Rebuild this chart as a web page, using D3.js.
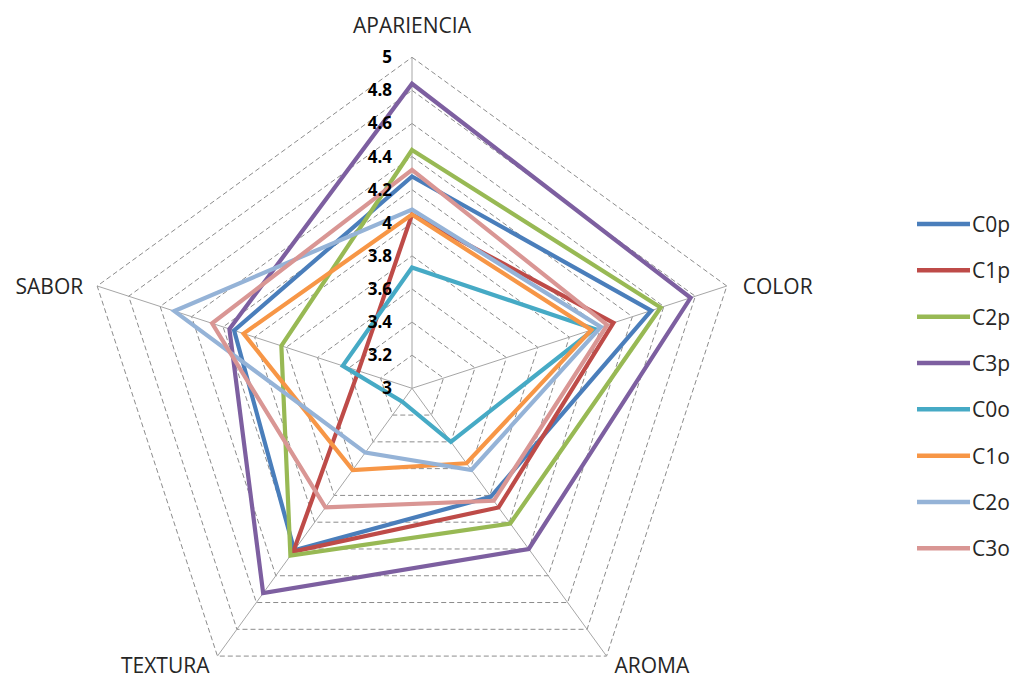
<!DOCTYPE html>
<html>
<head>
<meta charset="utf-8">
<script src="https://cdn.jsdelivr.net/npm/d3@7"></script>
<style>
  html, body { margin: 0; padding: 0; background: #fff; }
  svg { display: block; }
  text { font-family: "Open Sans", "DejaVu Sans", sans-serif; fill: #262626; }
</style>
</head>
<body>
<svg id="chart" width="1019" height="678"></svg>
<script>
// Sensory attributes (one spoke each, clockwise from the top)
const attributes = ["APARIENCIA", "COLOR", "AROMA", "TEXTURA", "SABOR"];

// Mean scores per sample, in the same order as the attributes
const seriesNames = ["C0p", "C1p", "C2p", "C3p", "C0o", "C1o", "C2o", "C3o"];
const C0p = [4.28, 4.52, 3.81, 4.21, 4.13];
const C1p = [4.05, 4.28, 3.89, 4.22, 3.34];
const C2p = [4.44, 4.58, 4.01, 4.25, 3.83];
const C3p = [4.84, 4.77, 4.20, 4.53, 4.16];
const C0o = [3.73, 4.16, 3.40, 3.10, 3.44];
const C1o = [4.05, 4.14, 3.56, 3.61, 4.07];
const C2o = [4.08, 4.20, 3.61, 3.48, 4.51];
const C3o = [4.32, 4.24, 3.84, 3.89, 4.27];
const seriesValues = [C0p, C1p, C2p, C3p, C0o, C1o, C2o, C3o];
const seriesColors = ["#4a7ebb", "#be4b48", "#98b954", "#7d5fa0",
                      "#46aac5", "#f79646", "#95b3d7", "#d99694"];

// Radial scale
const tickValues = [3, 3.2, 3.4, 3.6, 3.8, 4, 4.2, 4.4, 4.6, 4.8, 5];
const tickLabels = ["3", "3.2", "3.4", "3.6", "3.8", "4", "4.2", "4.4", "4.6", "4.8", "5"];

const svg = d3.select("#chart");
const cx = 412, cy = 388.3, R = 331;

const r = d3.scaleLinear().domain([3, 5]).range([0, R]);
const angle = d3.scalePoint().domain(d3.range(attributes.length))
  .range([0, 2 * Math.PI * (attributes.length - 1) / attributes.length]);

const g = svg.append("g").attr("transform", `translate(${cx},${cy})`);

const pt = (i, v) => {
  const a = angle(i);
  return [Math.sin(a) * r(v), -Math.cos(a) * r(v)];
};

// Dashed grid rings at every tick (skip the centre)
const ring = d3.lineRadial()
  .angle((d, i) => angle(i))
  .radius(d => r(d))
  .curve(d3.curveLinearClosed);

g.append("g").selectAll("path")
  .data(tickValues.slice(1))
  .join("path")
  .attr("d", v => ring(attributes.map(() => v)))
  .attr("fill", "none")
  .attr("stroke", "#8c8c8c")
  .attr("stroke-width", 1)
  .attr("stroke-dasharray", "5,3");

// Spokes
g.append("g").selectAll("line")
  .data(attributes)
  .join("line")
  .attr("x1", 0).attr("y1", 0)
  .attr("x2", (d, i) => pt(i, 5)[0])
  .attr("y2", (d, i) => pt(i, 5)[1])
  .attr("stroke", "#a6a6a6")
  .attr("stroke-width", 1);

// Series polygons
const line = d3.lineRadial()
  .angle((d, i) => angle(i))
  .radius(d => r(d))
  .curve(d3.curveLinearClosed);

g.append("g").selectAll("path")
  .data(seriesValues)
  .join("path")
  .attr("d", d => line(d))
  .attr("fill", "none")
  .attr("stroke", (d, i) => seriesColors[i])
  .attr("stroke-width", 4.2)
  .attr("stroke-linejoin", "miter");

// Tick labels along the top spoke
g.append("g").selectAll("text")
  .data(tickValues)
  .join("text")
  .attr("x", -20)
  .attr("y", v => -r(v))
  .attr("dy", "0.35em")
  .attr("text-anchor", "end")
  .style("font-size", "17px")
  .style("font-weight", "bold")
  .style("fill", "#000")
  .text((v, i) => tickLabels[i]);

// Attribute labels
const labelPlacement = [
  { dx: 0,   dy: -24, anchor: "middle", base: "auto" },
  { dx: 16,  dy: 0,   anchor: "start",  base: "central" },
  { dx: 8,   dy: 17,  anchor: "start",  base: "auto" },
  { dx: -8,  dy: 17,  anchor: "end",    base: "auto" },
  { dx: -14, dy: 0,   anchor: "end",    base: "central" }
];
g.append("g").selectAll("text")
  .data(attributes)
  .join("text")
  .attr("x", (d, i) => pt(i, 5)[0] + labelPlacement[i].dx)
  .attr("y", (d, i) => pt(i, 5)[1] + labelPlacement[i].dy)
  .attr("text-anchor", (d, i) => labelPlacement[i].anchor)
  .attr("dominant-baseline", (d, i) => labelPlacement[i].base)
  .style("font-size", "21px")
  .text(d => d);

// Legend
const legendY = d3.scalePoint().domain(seriesNames).range([224, 548.3]);
const legend = svg.append("g").selectAll("g")
  .data(seriesNames)
  .join("g")
  .attr("transform", d => `translate(917,${legendY(d)})`);
legend.append("line")
  .attr("x1", 0).attr("x2", 53)
  .attr("stroke", (d, i) => seriesColors[i])
  .attr("stroke-width", 4.5);
legend.append("text")
  .attr("x", 55)
  .attr("dominant-baseline", "central")
  .style("font-size", "21px")
  .text(d => d);
</script>
</body>
</html>
